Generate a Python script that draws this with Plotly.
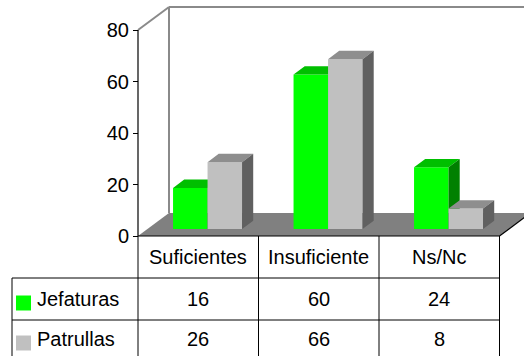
import plotly.graph_objects as go

# Survey results per category
categories = ["Suficientes", "Insuficiente", "Ns/Nc"]
series_names = ["Jefaturas", "Patrullas"]
jefaturas = [16, 60, 24]
patrullas = [26, 66, 8]
y_ticks = [0, 20, 40, 60, 80]

# face colours per series: front, top, side
FACE_COLORS = [
    ("#00FF00", "#00BF00", "#008000"),
    ("#C0C0C0", "#8E8E8E", "#606060"),
]
KEY_COLORS = ["#00FF00", "#C0C0C0"]

W, H = 524, 356
FONT = "Liberation Sans, Arial, sans-serif"
FS = 20

# pixel <-> data helpers (one category = CAT_W px, value unit = PY_PER px)
PX_L, CAT_W = 138.0, 120.5
Y0_PX, PY_PER = 236.0, 2.575


def xd(px):
    return (px - PX_L) / CAT_W - 0.5


def yd(py):
    return (Y0_PX - py) / PY_PER


# 3-D depth of the floor, expressed in data units
DX = 31.0 / CAT_W
DY = 23.0 / PY_PER
FRONT_F = 0.30   # where the bars start inside the depth
BAR_D = 0.36     # depth of each bar as a fraction of the floor depth
BAR_W = 34.5 / CAT_W

fig = go.Figure()

values = [jefaturas, patrullas]
for s, vals in enumerate(values):
    fronts_x, fronts_y, tops_x, tops_y, sides_x, sides_y = [], [], [], [], [], []
    for i, v in enumerate(vals):
        x0 = i - BAR_W + s * BAR_W + FRONT_F * DX
        x1 = x0 + BAR_W
        yb = FRONT_F * DY
        yt = yb + v
        bx, by = BAR_D * DX, BAR_D * DY
        fronts_x += [x0, x1, x1, x0, x0, None]
        fronts_y += [yb, yb, yt, yt, yb, None]
        tops_x += [x0, x1, x1 + bx, x0 + bx, x0, None]
        tops_y += [yt, yt, yt + by, yt + by, yt, None]
        sides_x += [x1, x1 + bx, x1 + bx, x1, x1, None]
        sides_y += [yb, yb + by, yt + by, yt, yb, None]
    front_c, top_c, side_c = FACE_COLORS[s]
    for xs, ys, c in ((fronts_x, fronts_y, front_c),
                      (tops_x, tops_y, top_c),
                      (sides_x, sides_y, side_c)):
        fig.add_trace(go.Scatter(
            x=xs, y=ys, mode="lines", fill="toself", fillcolor=c,
            line=dict(width=0, color=c), hoverinfo="skip", showlegend=False,
            name=series_names[s]))

shapes = []
# floor
fx0, fx1 = -0.5, len(categories) - 0.5
floor_path = (f"M {fx0},{0} L {fx1},{0} L {fx1 + DX},{DY} "
              f"L {fx0 + DX},{DY} Z")
shapes.append(dict(type="path", path=floor_path, xref="x", yref="y",
                   fillcolor="#808080", line=dict(width=0), layer="below"))
# right edge of floor
shapes.append(dict(type="line", x0=fx1, y0=0, x1=fx1 + DX, y1=DY,
                   xref="x", yref="y", line=dict(color="black", width=1.2)))
# back wall outline
wall = dict(color="#8A8A8A", width=2)
top_v = y_ticks[-1]
shapes.append(dict(type="line", x0=fx0, y0=top_v, x1=fx0 + DX, y1=top_v + DY,
                   xref="x", yref="y", line=wall, layer="below"))
shapes.append(dict(type="line", x0=fx0 + DX, y0=DY, x1=fx0 + DX, y1=top_v + DY,
                   xref="x", yref="y", line=wall, layer="below"))
shapes.append(dict(type="line", x0=fx0 + DX, y0=top_v + DY, x1=xd(W + 5),
                   y1=top_v + DY, xref="x", yref="y", line=wall, layer="below"))
# value axis line
shapes.append(dict(type="line", x0=fx0, y0=0, x1=fx0, y1=top_v,
                   xref="x", yref="y", line=dict(color="black", width=1.2)))

# data table grid
blk = dict(color="black", width=1)
row_top, row1, row2, row_bot = yd(236), yd(278), yd(320), yd(H + 5)
x_left = xd(12)
shapes.append(dict(type="line", x0=fx0, y0=row_top, x1=fx1, y1=row_top,
                   xref="x", yref="y", line=blk))
for yy in (row1, row2):
    shapes.append(dict(type="line", x0=x_left, y0=yy, x1=fx1, y1=yy,
                       xref="x", yref="y", line=blk))
for k in range(len(categories) + 1):
    shapes.append(dict(type="line", x0=k - 0.5, y0=row_top, x1=k - 0.5,
                       y1=row_bot, xref="x", yref="y", line=blk))
shapes.append(dict(type="line", x0=x_left, y0=row1, x1=x_left, y1=row_bot,
                   xref="x", yref="y", line=blk))

# legend keys inside the table
row_centers = [yd(299), yd(339)]
key_half = 7.5 / PY_PER
for s in range(len(series_names)):
    yc = row_centers[s] - 4.0 / PY_PER
    shapes.append(dict(type="rect", x0=xd(16), x1=xd(31), y0=yc - key_half,
                       y1=yc + key_half, xref="x", yref="y",
                       fillcolor=KEY_COLORS[s], line=dict(width=0)))

annotations = []
tfont = dict(family=FONT, size=FS, color="black")
header_y = yd(257)
for i, c in enumerate(categories):
    annotations.append(dict(x=i, y=header_y, text=c, showarrow=False,
                            xref="x", yref="y", xanchor="center",
                            yanchor="middle", font=tfont))
for s, vals in enumerate(values):
    annotations.append(dict(x=xd(35), y=row_centers[s], text=series_names[s],
                            showarrow=False, xref="x", yref="y",
                            xanchor="left", yanchor="middle", font=tfont))
    for i, v in enumerate(vals):
        annotations.append(dict(x=i, y=row_centers[s], text=str(v),
                                showarrow=False, xref="x", yref="y",
                                xanchor="center", yanchor="middle", font=tfont))

fig.update_layout(
    width=W, height=H,
    margin=dict(l=0, r=0, t=0, b=0, pad=0),
    paper_bgcolor="white", plot_bgcolor="white",
    shapes=shapes, annotations=annotations,
    xaxis=dict(range=[xd(0), xd(W)], visible=False, fixedrange=True),
    yaxis=dict(range=[yd(H), yd(0)], anchor="free", position=PX_L / W,
               tickvals=y_ticks, ticktext=[str(t) for t in y_ticks],
               ticks="outside", ticklen=5, tickcolor="black", tickwidth=1.2,
               showgrid=False, zeroline=False, showline=False,
               tickfont=tfont, fixedrange=True),
    showlegend=False,
)

fig.write_html("out.html")
